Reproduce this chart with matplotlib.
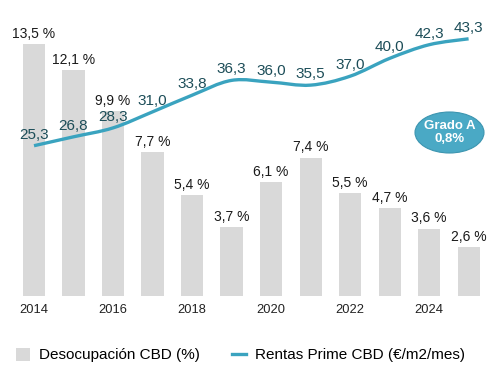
import matplotlib
matplotlib.use("Agg")
import matplotlib.pyplot as plt
from matplotlib.path import Path
from matplotlib.patches import PathPatch, Patch, Ellipse
from matplotlib.lines import Line2D

plt.rcParams['font.family'] = ['Liberation Sans', 'DejaVu Sans']

# Data
years = [2014, 2015, 2016, 2017, 2018, 2019, 2020, 2021, 2022, 2023, 2024, 2025]
desocupacion = [13.5, 12.1, 9.9, 7.7, 5.4, 3.7, 6.1, 7.4, 5.5, 4.7, 3.6, 2.6]
rentas = [25.3, 26.8, 28.3, 31.0, 33.8, 36.3, 36.0, 35.5, 37.0, 40.0, 42.3, 43.3]
tick_years = [2014, 2016, 2018, 2020, 2022, 2024]

BAR_COLOR = "#d9d9d9"
LINE_COLOR = "#3aa3bf"
LABEL_TEAL = "#1c4d58"

W, H = 500, 384
fig = plt.figure(figsize=(W / 100, H / 100), dpi=100)
ax = fig.add_axes([10.3 / W, (H - 296) / H, 482 / W, 276 / H])
ax2 = ax.twinx()

x = list(range(len(years)))
ax.bar(x, desocupacion, width=0.56, color=BAR_COLOR, zorder=1)
for xi, v in zip(x, desocupacion):
    ax.annotate(f"{v:.1f} %".replace(".", ","), (xi, v), xytext=(0, 7.5),
                textcoords="offset points", ha="center", va="center",
                fontsize=10, color="#1a1a1a")

ax.set_xlim(-0.6, 11.6)
ax.set_ylim(0, 276 / 18.67)
ax2.set_ylim(0, 276 / 5.94)

# smoothed line (Catmull-Rom through the data points, as bezier path)
pts = list(zip(x, rentas))
verts = [pts[0]]
codes = [Path.MOVETO]
n = len(pts)
for i in range(n - 1):
    p0 = pts[max(i - 1, 0)]
    p1 = pts[i]
    p2 = pts[i + 1]
    p3 = pts[min(i + 2, n - 1)]
    c1 = (p1[0] + (p2[0] - p0[0]) / 6, p1[1] + (p2[1] - p0[1]) / 6)
    c2 = (p2[0] - (p3[0] - p1[0]) / 6, p2[1] - (p3[1] - p1[1]) / 6)
    verts += [c1, c2, p2]
    codes += [Path.CURVE4] * 3
ax2.add_patch(PathPatch(Path(verts, codes), fill=False, edgecolor=LINE_COLOR,
                        lw=2.4, capstyle="butt", zorder=3))

for xi, v in zip(x, rentas):
    ax2.annotate(f"{v:.1f}".replace(".", ","), (xi, v), xytext=(0, 8),
                 textcoords="offset points", ha="center", va="center",
                 fontsize=11, color=LABEL_TEAL, zorder=4)

ax.set_xticks([years.index(y) for y in tick_years])
ax.set_xticklabels([str(y) for y in tick_years], fontsize=9.3, color="#222222")
ax.tick_params(axis="x", length=0, pad=6)
ax.set_yticks([])
ax2.set_yticks([])
for a in (ax, ax2):
    for s in a.spines.values():
        s.set_visible(False)

# Grado A bubble
fig.patches.append(Ellipse((449.5 / W, 1 - 132.5 / H), 69 / W, 41 / H,
                           transform=fig.transFigure, facecolor="#4aa9c5",
                           edgecolor="#3c95b0", lw=0.8, zorder=5))
fig.text(449.5 / W, 1 - 126 / H, "Grado A", ha="center", va="center",
         fontsize=9.5, fontweight="bold", color="white", zorder=6)
fig.text(449.5 / W, 1 - 139.5 / H, "0,8%", ha="center", va="center",
         fontsize=9.5, fontweight="bold", color="white", zorder=6)

handles = [Patch(facecolor=BAR_COLOR, edgecolor="none"),
           Line2D([0], [0], color=LINE_COLOR, lw=2.4)]
fig.legend(handles, ["Desocupación CBD (%)", "Rentas Prime CBD (€/m2/mes)"],
           loc="center left", bbox_to_anchor=(16 / W, 1 - 355 / H), ncol=2,
           frameon=False, fontsize=11, handlelength=0.92, handleheight=0.92,
           handletextpad=0.6, columnspacing=2.1, borderpad=0, borderaxespad=0)

fig.savefig("out.png", dpi=100)
